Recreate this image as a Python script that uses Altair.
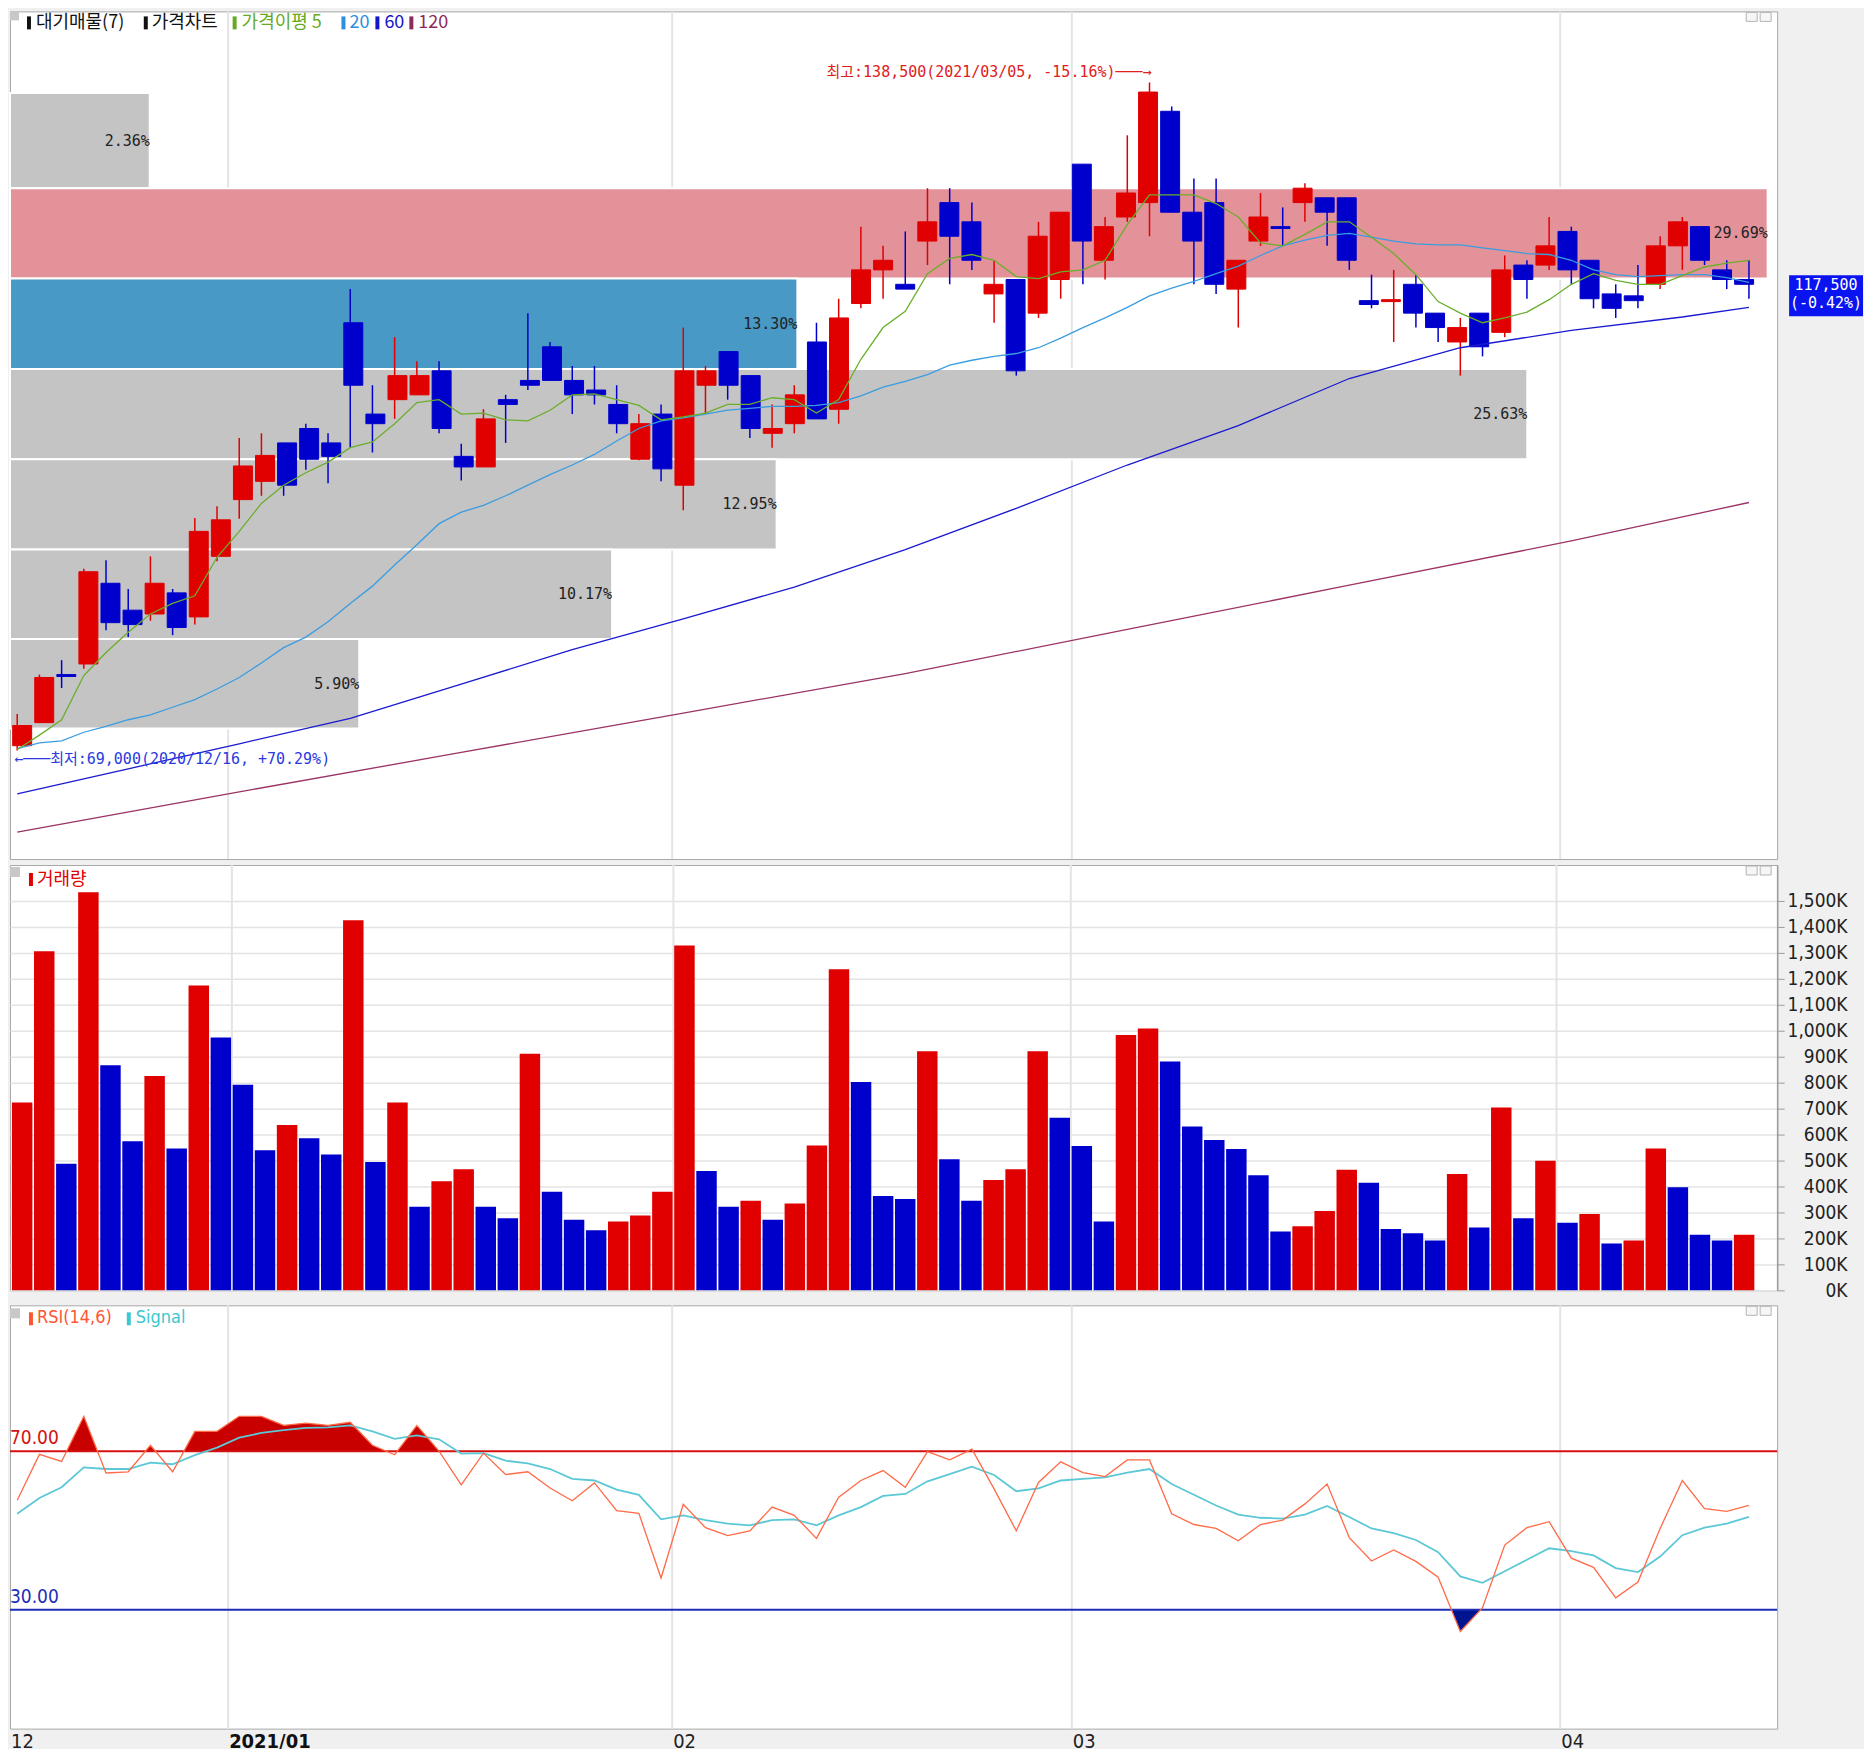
import altair as alt
import pandas as pd

# ---------------- data ----------------
dates = [
    "2020/12/16", "2020/12/17", "2020/12/18", "2020/12/21", "2020/12/22", "2020/12/23", "2020/12/24", "2020/12/28", "2020/12/29", "2020/12/30",
    "2021/01/04", "2021/01/05", "2021/01/06", "2021/01/07", "2021/01/08", "2021/01/11", "2021/01/12", "2021/01/13", "2021/01/14", "2021/01/15",
    "2021/01/18", "2021/01/19", "2021/01/20", "2021/01/21", "2021/01/22", "2021/01/25", "2021/01/26", "2021/01/27", "2021/01/28", "2021/01/29",
    "2021/02/01", "2021/02/02", "2021/02/03", "2021/02/04", "2021/02/05", "2021/02/08", "2021/02/09", "2021/02/10", "2021/02/15", "2021/02/16",
    "2021/02/17", "2021/02/18", "2021/02/19", "2021/02/22", "2021/02/23", "2021/02/24", "2021/02/25", "2021/02/26", "2021/03/02", "2021/03/03",
    "2021/03/04", "2021/03/05", "2021/03/08", "2021/03/09", "2021/03/10", "2021/03/11", "2021/03/12", "2021/03/15", "2021/03/16", "2021/03/17",
    "2021/03/18", "2021/03/19", "2021/03/22", "2021/03/23", "2021/03/24", "2021/03/25", "2021/03/26", "2021/03/29", "2021/03/30", "2021/03/31",
    "2021/04/01", "2021/04/02", "2021/04/05", "2021/04/06", "2021/04/07", "2021/04/08", "2021/04/09", "2021/04/12", "2021/04/13",
]
open_ = [
    69500, 71900, 76900, 78000, 86400, 83600, 83200, 85400, 82900, 89200,
    95100, 97000, 101000, 102500, 101000, 113500, 104000, 105500, 106000, 108500,
    99600, 98500, 105500, 107500, 111000, 107500, 106500, 105000, 99300, 104000,
    96600, 107000, 110500, 108000, 102000, 103000, 111500, 104500, 115500, 119000,
    117500, 122000, 126000, 124000, 116500, 118000, 114500, 118000, 130000, 120000,
    124500, 126000, 135500, 125000, 126000, 117000, 122000, 123500, 126000, 126500,
    126500, 115800, 115700, 117500, 114500, 111500, 114500, 112500, 119500, 119500,
    123000, 120000, 116500, 116300, 117500, 121500, 123500, 119000, 118000,
]
high = [
    72800, 76900, 78400, 87900, 88800, 85800, 89200, 85800, 93200, 94400,
    101500, 102000, 101000, 103000, 102000, 117000, 107000, 112000, 109500, 109500,
    100900, 104500, 106000, 114500, 111500, 109000, 109000, 107000, 104000, 105000,
    113000, 109000, 110500, 108000, 105000, 107000, 113500, 116000, 123500, 121500,
    123000, 127500, 127500, 126000, 120000, 118000, 124000, 125000, 130000, 124500,
    133000, 138500, 136000, 128500, 128500, 120000, 127000, 125500, 128000, 126500,
    126500, 118500, 119000, 118500, 114500, 114000, 114500, 120500, 120000, 124500,
    123500, 120000, 117500, 119500, 122500, 124500, 123500, 120000, 120000,
]
low = [
    69000, 71900, 75500, 77500, 81500, 80800, 82500, 81000, 82100, 88700,
    93100, 95500, 95500, 98200, 96800, 100500, 100000, 103500, 106000, 102000,
    97100, 98500, 101000, 106500, 107500, 104000, 105000, 102000, 99200, 97000,
    94000, 104000, 105500, 101500, 100500, 102000, 103500, 103000, 115000, 116000,
    117000, 119500, 117500, 119000, 113500, 108000, 114000, 116000, 117500, 118000,
    124000, 122500, 125000, 117500, 116500, 113000, 121500, 121500, 124000, 121500,
    119000, 115000, 111500, 113000, 111500, 108000, 110000, 112000, 116000, 119000,
    117500, 115000, 114000, 115000, 117000, 119000, 119500, 117000, 116000,
]
close = [
    71600, 76600, 76700, 87600, 82300, 82100, 86400, 81800, 91800, 93000,
    98600, 99700, 96600, 99300, 99600, 107000, 103000, 108000, 108000, 102500,
    98500, 103500, 105000, 107000, 107500, 106000, 106000, 103000, 103000, 98300,
    108500, 108500, 107000, 102500, 102500, 106000, 103500, 114000, 119000, 120000,
    117000, 124000, 122500, 120000, 117500, 108500, 122500, 125000, 122000, 123500,
    127000, 137500, 125000, 122000, 117500, 120000, 124500, 123300, 127500, 125000,
    120000, 115400, 115900, 114500, 113000, 113000, 111000, 119000, 118000, 121500,
    119000, 116000, 115000, 115800, 121500, 124000, 120000, 118000, 117500,
]
volume_k = [
    723, 1305, 487, 1532, 866, 574, 825, 546, 1173, 973,
    791, 539, 636, 585, 523, 1424, 494, 723, 322, 420,
    466, 322, 277, 911, 379, 272, 231, 265, 288, 379,
    1327, 459, 322, 345, 272, 334, 557, 1236, 802, 363,
    352, 920, 505, 345, 425, 466, 920, 664, 556, 265,
    983, 1008, 881, 631, 579, 544, 443, 226, 247, 305,
    464, 414, 236, 220, 192, 448, 242, 704, 277, 499,
    260, 294, 180, 192, 546, 397, 214, 192, 214,
]
ma5 = [
    69100, 70600, 72200, 76800, 79200, 81300, 83200, 84300, 85100, 89100,
    91800, 94700, 96600, 97900, 99000, 100500, 101100, 103000, 105200, 105500,
    104000, 104100, 103400, 103300, 104400, 106000, 106100, 105500, 104900, 103400,
    103700, 104100, 105000, 105000, 105700, 105500, 104100, 105500, 109700, 113000,
    114700, 118600, 120200, 120600, 120000, 118300, 118100, 118800, 119000, 120000,
    123700, 126800, 126800, 126800, 125900, 124500, 121800, 121500, 122700, 124000,
    124000, 122400, 120700, 118500, 115700, 114500, 113500, 114000, 114600, 115900,
    117500, 118600, 117900, 117500, 117500, 118400, 119300, 119700, 120000,
]
ma20 = [
    69200, 69800, 70000, 70900, 71500, 72200, 72700, 73500, 74300, 75400,
    76600, 78100, 79700, 80800, 82400, 84300, 86100, 88300, 90400, 92600,
    93800, 94500, 95500, 96600, 97700, 98700, 99800, 101200, 102500, 103300,
    103600, 104000, 104400, 104600, 104800, 104800, 104900, 105200, 105900, 106800,
    107400, 108100, 109100, 109600, 110000, 110300, 110900, 111900, 113000, 114000,
    115100, 116300, 117100, 117800, 118600, 119400, 120500, 121500, 122100, 122600,
    122800, 122400, 122000, 121700, 121600, 121600, 121300, 121000, 120700, 120600,
    120000, 119000, 118500, 118300, 118400, 118500, 118500, 118200, 117700,
]
ma60_at = [0, 5, 10, 15, 20, 25, 30, 35, 40, 45, 50, 55, 60, 65, 70, 75, 78]
ma60 = [64500, 67100, 69700, 72350, 75900, 79500, 82700, 86000, 89900, 94200,
        98700, 102800, 107700, 110900, 112700, 114100, 115100]
ma120_at = [0, 10, 20, 30, 40, 50, 60, 70, 78]
ma120 = [60500, 64700, 68800, 72900, 77000, 81600, 86200, 90800, 94800]
rsi = [
    57.6, 69.2, 67.4, 78.8, 64.5, 64.8, 71.5, 64.8, 75.0, 75.0,
    78.8, 78.8, 76.5, 77.1, 76.5, 77.3, 71.5, 69.1, 76.5, 70.0,
    61.5, 69.5, 64.1, 64.8, 60.7, 57.5, 62.0, 55.0, 54.3, 38.0,
    56.6, 50.7, 48.7, 49.9, 55.9, 53.8, 48.0, 58.4, 62.6, 65.1,
    60.9, 69.9, 67.8, 70.5, 60.5, 49.9, 62.1, 67.3, 64.6, 63.6,
    67.8, 67.8, 54.2, 51.5, 50.5, 47.4, 51.5, 52.6, 56.7, 61.7,
    48.2, 42.3, 45.1, 42.2, 38.2, 24.5, 30.5, 46.3, 50.7, 52.2,
    43.0, 40.7, 33.0, 37.0, 50.5, 62.6, 55.5, 54.8, 56.3,
]
signal = [
    54.2, 58.2, 60.9, 65.9, 65.5, 65.5, 67.1, 66.7, 69.0, 70.9,
    73.4, 74.6, 75.3, 75.9, 76.0, 76.5, 75.0, 73.1, 74.0, 73.0,
    69.4, 69.5, 67.6, 66.9, 65.5, 63.0, 62.6, 60.3, 59.0, 52.8,
    53.8, 52.6, 51.7, 51.3, 52.6, 52.8, 51.3, 53.8, 55.9, 58.7,
    59.2, 62.4, 64.2, 66.1, 64.0, 59.9, 60.6, 62.6, 63.0, 63.4,
    64.6, 65.5, 61.7, 59.0, 56.3, 54.0, 53.2, 53.0, 54.0, 56.2,
    53.4, 50.5, 49.3, 47.6, 44.5, 38.4, 36.8, 39.7, 42.6, 45.5,
    44.8, 43.7, 40.5, 39.5, 43.4, 48.8, 50.7, 51.7, 53.4,
]
band_high = [137400, 127500, 118100, 108700, 99300, 89900, 80600]
band_low = [127500, 118100, 108700, 99300, 89900, 80600, 71300]
band_pct = [2.36, 29.69, 13.30, 25.63, 12.95, 10.17, 5.90]
rsi_levels = [70, 30]

# ---------------- styling ----------------
W = 1770
H_PRICE, H_VOL, H_RSI = 849, 426, 424
X_DOMAIN = [-0.325, 79.27]
RED, BLUE = "#E00000", "#0000CC"
GRID = "#E4E4E4"
AXC = "#9C9C9C"
MONO = "DejaVu Sans Mono, Noto Sans CJK KR, DejaVu Sans"
NARROW = "Liberation Sans Narrow, DejaVu Sans Condensed, Arial Narrow, sans-serif"
KR = "Noto Sans CJK KR"
ROLE_FILL = {"normal": "#C4C4C4", "max": "#E3929A", "current": "#4899C6"}

xs = alt.Scale(domain=X_DOMAIN, nice=False, zero=False)
ys = alt.Scale(domain=[57710, 145890], nice=False, zero=False)
vs = alt.Scale(domain=[0, 1637000], nice=False, zero=True)
rs = alt.Scale(domain=[0, 106.8], nice=False, zero=True)
dirscale = alt.Scale(domain=["up", "down"], range=[RED, BLUE])

n = len(close)
df = pd.DataFrame({
    "i": list(range(n)), "date": dates, "open": open_, "high": high, "low": low,
    "close": close, "volume": [v * 1000 for v in volume_k], "ma5": ma5, "ma20": ma20,
    "rsi": rsi, "signal": signal,
})
df["dir"] = ["up" if c >= o else "down" for o, c in zip(open_, close)]
df["vdir"] = ["up" if k == 0 or volume_k[k] > volume_k[k - 1] else "down" for k in range(n)]

one = pd.DataFrame({"k": [0]})


def txt(s, px, py, color, size=18, font=KR, weight="normal", align="left", baseline="middle"):
    return alt.Chart(one).mark_text(
        text=s, align=align, baseline=baseline, font=font, fontSize=size,
        fontWeight=weight, color=color,
    ).encode(x=alt.value(px), y=alt.value(py))


def box(px, py, w, h, color, stroke=None):
    kw = {"color": color}
    if stroke:
        kw.update(stroke=stroke, strokeWidth=1)
    return alt.Chart(one).mark_rect(**kw).encode(
        x=alt.value(px), x2=alt.value(px + w), y=alt.value(py), y2=alt.value(py + h))


def win_icons():
    return [box(W - 31, 1, 11, 9, "#F6F6F6", "#B4B4B4"), box(W - 17, 1, 11, 9, "#F6F6F6", "#B4B4B4")]


# month boundaries from the dates
mon = [d[5:7] for d in dates]
bounds = [k for k in range(1, n) if mon[k] != mon[k - 1]]
grid_df = pd.DataFrame({"m": [k - 0.5 for k in bounds]})
lab_rows = [{"x": X_DOMAIN[0], "t": mon[0], "bold": False}]
for k in bounds:
    newyear = dates[k][:4] != dates[k - 1][:4]
    lab_rows.append({"x": k - 0.5, "t": dates[k][:7] if newyear else mon[k], "bold": newyear})
lab_df = pd.DataFrame(lab_rows)

vgrid = alt.Chart(grid_df).mark_rule(color=GRID, strokeWidth=2).encode(
    x=alt.X("m:Q", scale=xs, axis=None))

# ---------------- price panel ----------------
price_axis = alt.Axis(
    orient="right", values=list(range(60000, 140001, 10000)), format=",", grid=True,
    gridColor=GRID, gridWidth=1.5, domain=True, domainColor=AXC, domainWidth=1.5,
    ticks=True, tickColor=AXC, tickSize=7, labelAlign="right", labelPadding=71,
    labelFont=MONO, labelFontSize=15, labelColor="#222222", labelBaseline="middle",
    labelFlush=False, labelOverlap=False, title=None,
)

last = close[-1]
roles = []
for lo_, hi_, p in zip(band_low, band_high, band_pct):
    if p == max(band_pct):
        roles.append("max")
    elif lo_ <= last < hi_:
        roles.append("current")
    else:
        roles.append("normal")
bands_df = pd.DataFrame({
    "hi": band_high, "lo": band_low, "pct": band_pct,
    "fill": [ROLE_FILL[r] for r in roles],
    "mid": [(a + b) / 2 for a, b in zip(band_high, band_low)],
    "zero": [0] * len(band_pct),
    "lbl": [f"{p:.2f}%" for p in band_pct],
})
band_x = alt.Scale(domain=[0, 29.85], nice=False, zero=True)
band_rect = alt.Chart(bands_df).mark_rect(stroke="white", strokeWidth=2).encode(
    x=alt.X("pct:Q", scale=band_x, axis=None), x2="zero:Q",
    y=alt.Y("hi:Q", scale=ys, axis=price_axis), y2="lo:Q",
    color=alt.Color("fill:N", scale=None),
)
band_text = alt.Chart(bands_df).mark_text(
    align="right", baseline="middle", font=MONO, fontSize=15, color="#222222").encode(
    x=alt.X("pct:Q", scale=band_x, axis=None), y=alt.Y("mid:Q", scale=ys, axis=None), text="lbl:N")
bands = alt.layer(band_rect, band_text)

base = alt.Chart(df)
X_I = alt.X("i:Q", scale=xs, axis=None)
wick = base.mark_rule(strokeWidth=1.5).encode(
    x=X_I, y=alt.Y("low:Q", scale=ys, axis=None), y2="high:Q",
    color=alt.Color("dir:N", scale=dirscale, legend=None))
body = base.mark_bar(width=19, strokeWidth=1).encode(
    x=X_I, y=alt.Y("open:Q", scale=ys, axis=None), y2="close:Q",
    color=alt.Color("dir:N", scale=dirscale, legend=None),
    stroke=alt.Stroke("dir:N", scale=dirscale, legend=None))

line5 = base.mark_line(color="#6AAE2A", strokeWidth=1.3).encode(x=X_I, y=alt.Y("ma5:Q", scale=ys, axis=None))
line20 = base.mark_line(color="#3A9DE0", strokeWidth=1.3).encode(x=X_I, y=alt.Y("ma20:Q", scale=ys, axis=None))
line60 = alt.Chart(pd.DataFrame({"i": ma60_at, "v": ma60})).mark_line(
    color="#1A1AD0", strokeWidth=1.3).encode(x=X_I, y=alt.Y("v:Q", scale=ys, axis=None))
line120 = alt.Chart(pd.DataFrame({"i": ma120_at, "v": ma120})).mark_line(
    color="#9A3366", strokeWidth=1.3).encode(x=X_I, y=alt.Y("v:Q", scale=ys, axis=None))

hi_i = max(range(n), key=lambda k: high[k])
lo_i = min(range(n), key=lambda k: low[k])
hi_txt = f"최고:{high[hi_i]:,}({dates[hi_i]}, {(last / high[hi_i] - 1) * 100:.2f}%)───→"
lo_txt = f"←───최저:{low[lo_i]:,}({dates[lo_i]}, +{(last / low[lo_i] - 1) * 100:.2f}%)"
ann_hi = alt.Chart(pd.DataFrame({"i": [hi_i], "p": [high[hi_i]], "t": [hi_txt]})).mark_text(
    align="right", baseline="middle", font=MONO, fontSize=15, color="#E02020", dy=-10, dx=2).encode(
    x=X_I, y=alt.Y("p:Q", scale=ys, axis=None), text="t:N")
ann_lo = alt.Chart(pd.DataFrame({"i": [lo_i], "p": [low[lo_i]], "t": [lo_txt]})).mark_text(
    align="left", baseline="middle", font=MONO, fontSize=15, color="#2A3AE0", dy=9, dx=-3).encode(
    x=X_I, y=alt.Y("p:Q", scale=ys, axis=None), text="t:N")

chg = (close[-1] / close[-2] - 1) * 100
cur_df = pd.DataFrame({"p": [last], "a": [f"{last:,}"], "b": [f"({chg:.2f}%)"]})
cur_box = alt.Chart(cur_df).mark_rect(color="#0A14F0", yOffset=-9, y2Offset=32).encode(
    x=alt.value(W + 12), x2=alt.value(W + 86), y=alt.Y("p:Q", scale=ys, axis=None), y2="p:Q")
cur_a = alt.Chart(cur_df).mark_text(font=MONO, fontSize=15, color="white", align="center",
                                    baseline="middle", dy=1).encode(
    x=alt.value(W + 49), y=alt.Y("p:Q", scale=ys, axis=None), text="a:N")
cur_b = alt.Chart(cur_df).mark_text(font=MONO, fontSize=15, color="white", align="center",
                                    baseline="middle", dy=19).encode(
    x=alt.value(W + 49), y=alt.Y("p:Q", scale=ys, axis=None), text="b:N")

LY = 12
price_legend = [
    box(0, 0, 9, 9, "#C8C8C8"),
    box(17, 5, 4, 13, "#111111"), txt("대기매물(7)", 26, LY, "#111111"),
    box(134, 5, 4, 13, "#111111"), txt("가격차트", 142, LY, "#111111"),
    box(223, 5, 4, 13, "#66AA22"), txt("가격이평 5", 232, LY, "#66AA22"),
    box(332, 5, 4, 13, "#2C8FE0"), txt("20", 340, LY, "#2C8FE0"),
    box(366, 5, 4, 13, "#1515C8"), txt("60", 375, LY, "#1515C8"),
    box(400, 5, 4, 13, "#8E2A58"), txt("120", 409, LY, "#8E2A58"),
]

price = alt.layer(
    vgrid, bands, wick, body, line120, line60, line20, line5, ann_hi, ann_lo,
    cur_box, cur_a, cur_b, *price_legend, *win_icons(),
).resolve_scale(x="independent").properties(width=W, height=H_PRICE)

# ---------------- volume panel ----------------
vol_axis = alt.Axis(
    orient="right", values=list(range(0, 1500001, 100000)),
    labelExpr="format(datum.value / 1000, ',') + 'K'", grid=True, gridColor=GRID, gridWidth=1.5,
    domain=True, domainColor=AXC, domainWidth=1.5, ticks=True, tickColor=AXC, tickSize=7,
    labelAlign="right", labelPadding=63, labelFont=NARROW, labelFontSize=19,
    labelColor="#222222", labelBaseline="middle", labelFlush=4, labelOverlap=False, title=None,
)
vbars = base.mark_bar(width=20.5).encode(
    x=X_I, y=alt.Y("volume:Q", scale=vs, axis=vol_axis),
    color=alt.Color("vdir:N", scale=dirscale, legend=None))
vol_legend = [box(0, 2, 10, 10, "#C8C8C8"), box(19, 8, 4, 13, RED), txt("거래량", 27, 15, RED, size=18)]
vol = alt.layer(vgrid, vbars, *vol_legend, *win_icons()).properties(width=W, height=H_VOL)

# ---------------- RSI panel ----------------
def clip_pts(vals, level, above):
    px_, py_ = [], []
    for k in range(len(vals)):
        v = vals[k]
        px_.append(k)
        py_.append(max(v, level) if above else min(v, level))
        if k + 1 < len(vals):
            a, b = vals[k] - level, vals[k + 1] - level
            if a * b < 0:
                px_.append(k + a / (a - b))
                py_.append(level)
    return pd.DataFrame({"i": px_, "y": py_, "b": [level] * len(px_)})


rsi_axis = alt.Axis(
    orient="right", values=list(range(0, 101, 10)), format=".2f", grid=True, gridColor=GRID,
    gridWidth=1.5, domain=True, domainColor=AXC, domainWidth=1.5, ticks=True, tickColor=AXC,
    tickSize=7, labelAlign="right", labelPadding=63, labelFont=NARROW, labelFontSize=19,
    labelColor="#222222", labelBaseline="middle", labelFlush=4, labelOverlap=False, title=None,
)
over = alt.Chart(clip_pts(rsi, rsi_levels[0], True)).mark_area(color="#C80000").encode(
    x=X_I, y=alt.Y("y:Q", scale=rs, axis=rsi_axis), y2="b:Q")
under = alt.Chart(clip_pts(rsi, rsi_levels[1], False)).mark_area(color="#001490").encode(
    x=X_I, y=alt.Y("y:Q", scale=rs, axis=None), y2="b:Q")
lv_df = pd.DataFrame({"lv": rsi_levels, "c": ["#D41010", "#1E2EB4"],
                      "t": [f"{v:.2f}" for v in rsi_levels]})
lv_rules = alt.Chart(lv_df).mark_rule(strokeWidth=2).encode(
    y=alt.Y("lv:Q", scale=rs, axis=None), color=alt.Color("c:N", scale=None))
lv_text = alt.Chart(lv_df).mark_text(align="left", baseline="bottom", dy=-3, font=NARROW,
                                     fontSize=19).encode(
    x=alt.value(0), y=alt.Y("lv:Q", scale=rs, axis=None), text="t:N",
    color=alt.Color("c:N", scale=None))
rsi_line = base.mark_line(color="#FF6A48", strokeWidth=1.3).encode(
    x=X_I, y=alt.Y("rsi:Q", scale=rs, axis=None))
sig_line = base.mark_line(color="#5CC8D6", strokeWidth=1.8).encode(
    x=X_I, y=alt.Y("signal:Q", scale=rs, axis=None))
date_norm = alt.Chart(lab_df[~lab_df["bold"]]).mark_text(
    align="left", baseline="middle", font=NARROW, fontSize=20, color="#222222", dx=1).encode(
    x=alt.X("x:Q", scale=xs, axis=None), y=alt.value(H_RSI + 13), text="t:N")
date_bold = alt.Chart(lab_df[lab_df["bold"]]).mark_text(
    align="left", baseline="middle", font=NARROW, fontSize=20, fontWeight="bold",
    color="#111111", dx=1).encode(
    x=alt.X("x:Q", scale=xs, axis=None), y=alt.value(H_RSI + 13), text="t:N")
rsi_legend = [
    box(0, 3, 10, 10, "#C8C8C8"),
    box(19, 7, 4, 13, "#FF5533"), txt("RSI(14,6)", 27, 13, "#FF5533", size=18, font=NARROW),
    box(117, 7, 4, 13, "#3CC8D0"), txt("Signal", 126, 13, "#3CC8D0", size=18, font=NARROW),
]
rsi_chart = alt.layer(
    vgrid, over, under, lv_rules, lv_text, sig_line, rsi_line, date_norm, date_bold,
    *rsi_legend, *win_icons(),
).properties(width=W, height=H_RSI)

chart = alt.vconcat(price, vol, rsi_chart, spacing=2).properties(padding=0).configure(
    background="#F0F0F0").configure_view(fill="white", stroke="#A8A8A8", strokeWidth=1)

chart.save("out.html", embed_options={"renderer": "svg", "actions": False})
